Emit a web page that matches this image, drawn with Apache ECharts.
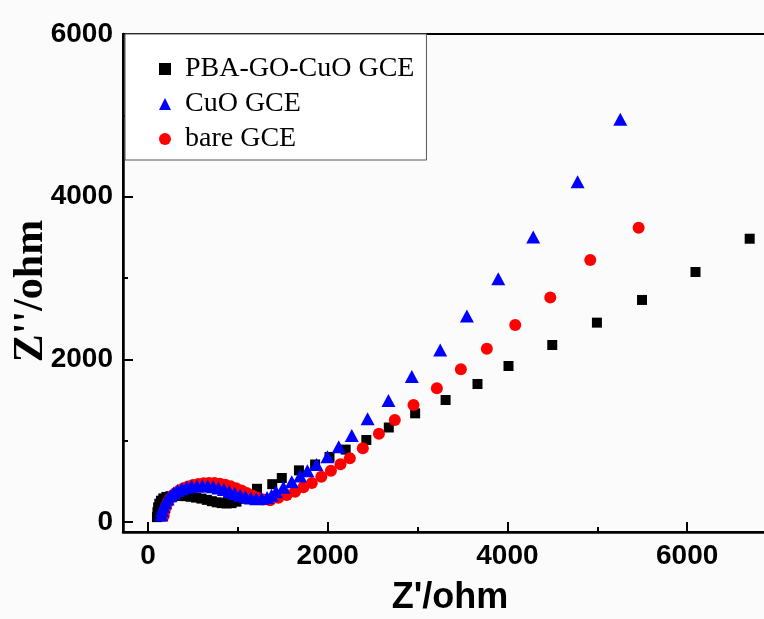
<!DOCTYPE html>
<html><head><meta charset="utf-8">
<script src="https://cdn.jsdelivr.net/npm/echarts@6/dist/echarts.min.js"></script>
<style>html,body{margin:0;padding:0;background:#fbfbfb}#c{width:764px;height:619px}</style>
</head><body><div id="c"></div>
<script>
const seriesNames = ['PBA-GO-CuO GCE', 'CuO GCE', 'bare GCE'];

const pbaGoCuO = [[100,60],[105,120],[113,180],[126,225],[145,262],[170,290],[205,308],[250,318],[300,322],[355,322],[415,318],[475,310],[535,300],[595,288],[655,272],[710,256],[765,242],[820,232],[875,228],[930,232],[985,250],[1045,285],[1110,335],[1213,408],[1383,465],[1489,541],[1680,635],[1860,707],[2020,800],[2200,890],[2430,1008],[2680,1162],[2973,1336],[3312,1500],[3667,1697],[4012,1918],[4499,2176],[4996,2451],[5498,2730],[6093,3074],[6696,3483]];

const cuo = [[150,85],[158,140],[172,190],[192,238],[218,282],[250,322],[287,357],[330,386],[378,409],[430,426],[485,438],[545,444],[605,446],[665,442],[725,433],[785,419],[845,400],[905,376],[965,351],[1025,328],[1085,309],[1145,294],[1205,286],[1265,288],[1325,302],[1375,330],[1425,373],[1507,427],[1600,496],[1693,566],[1774,631],[1875,707],[1997,803],[2123,926],[2268,1065],[2444,1270],[2676,1495],[2936,1790],[3252,2115],[3549,2533],[3898,2990],[4287,3504],[4781,4184],[5256,4951]];

const bare = [[175,75],[185,135],[200,190],[220,240],[245,285],[275,325],[310,360],[350,390],[395,415],[445,437],[500,455],[560,468],[620,477],[680,481],[740,479],[800,471],[860,457],[920,438],[980,414],[1040,387],[1100,357],[1160,326],[1220,298],[1285,276],[1359,268],[1451,297],[1544,332],[1637,373],[1729,427],[1823,478],[1929,557],[2036,631],[2142,710],[2246,783],[2391,906],[2570,1085],[2747,1254],[2955,1439],[3215,1644],[3482,1877],[3771,2131],[4087,2422],[4477,2760],[4922,3221],[5460,3619]];

const xMajorTicks = [0, 2000, 4000, 6000];
const xMinorTicks = [1000, 3000, 5000];
const yMajorTicks = [0, 2000, 4000, 6000];
const yMinorTicks = [1000, 3000, 5000];
const xRange = [-278, 7000];
const yRange = [-123, 6000];

const chart = echarts.init(document.getElementById('c'), null, {renderer: 'canvas'});
const tickLabel = {fontFamily: 'Liberation Sans', fontWeight: 'bold', fontSize: 28, color: '#000', formatter: (v) => String(v)};
const axisBase = (range) => ({type: 'value', min: range[0], max: range[1], splitLine: {show: false}});

chart.setOption({
  backgroundColor: '#fbfbfb',
  animation: false,
  grid: {left: 123, top: 34, bottom: 87, right: -13, outerBoundsMode: 'none', containLabel: false, show: true, borderColor: '#000', borderWidth: 2, backgroundColor: 'transparent'},
  legend: {
    orient: 'vertical', left: 125, top: 34,
    data: seriesNames,
    itemWidth: 12, itemHeight: 12, itemGap: 7,
    padding: [21, 12, 7, 34],
    borderColor: '#555', borderWidth: 1, backgroundColor: '#fff',
    textStyle: {fontFamily: 'Liberation Serif', fontSize: 28, color: '#000', padding: [0, 0, 0, 9]}
  },
  xAxis: [
    Object.assign(axisBase(xRange), {
      position: 'bottom',
      axisLine: {show: true, onZero: false, lineStyle: {color: '#000', width: 2.5}},
      axisTick: {show: true, inside: true, length: 10, customValues: xMajorTicks, lineStyle: {color: '#000', width: 2}},
      axisLabel: Object.assign({customValues: xMajorTicks, margin: 10}, tickLabel),
      name: "Z'/ohm", nameLocation: 'middle', nameGap: 48,
      nameTextStyle: {fontFamily: 'Liberation Sans', fontWeight: 'bold', fontSize: 36, color: '#000'}
    }),
    Object.assign(axisBase(xRange), {
      position: 'bottom', offset: 0,
      axisLine: {show: false, onZero: false},
      axisTick: {show: true, inside: true, length: 5, customValues: xMinorTicks, lineStyle: {color: '#000', width: 2}},
      axisLabel: {show: false}
    })
  ],
  yAxis: [
    Object.assign(axisBase(yRange), {
      position: 'left',
      axisLine: {show: true, onZero: false, lineStyle: {color: '#000', width: 2.5}},
      axisTick: {show: true, inside: true, length: 10, customValues: yMajorTicks, lineStyle: {color: '#000', width: 2}},
      axisLabel: Object.assign({customValues: yMajorTicks, margin: 10}, tickLabel),
      name: "Z''/ohm", nameLocation: 'middle', nameGap: 71, nameMoveOverlap: false,
      nameTextStyle: {fontFamily: 'Liberation Serif', fontWeight: 'bold', fontSize: 42, color: '#000', padding: [0, 16, 0, 0]}
    }),
    Object.assign(axisBase(yRange), {
      position: 'left', offset: 0,
      axisLine: {show: false, onZero: false},
      axisTick: {show: true, inside: true, length: 5, customValues: yMinorTicks, lineStyle: {color: '#000', width: 2}},
      axisLabel: {show: false}
    })
  ],
  series: [
    {name: seriesNames[0], type: 'scatter', data: pbaGoCuO, symbol: 'rect', symbolSize: 10, itemStyle: {color: '#000000', opacity: 1}, xAxisIndex: 0, yAxisIndex: 0},
    {name: seriesNames[2], type: 'scatter', data: bare, symbol: 'circle', symbolSize: 12, itemStyle: {color: '#ff0000', opacity: 1}, xAxisIndex: 0, yAxisIndex: 0},
    {name: seriesNames[1], type: 'scatter', data: cuo, symbol: 'triangle', symbolSize: [14, 13], itemStyle: {color: '#0000ff', opacity: 1}, xAxisIndex: 0, yAxisIndex: 0}
  ]
});
</script></body></html>
